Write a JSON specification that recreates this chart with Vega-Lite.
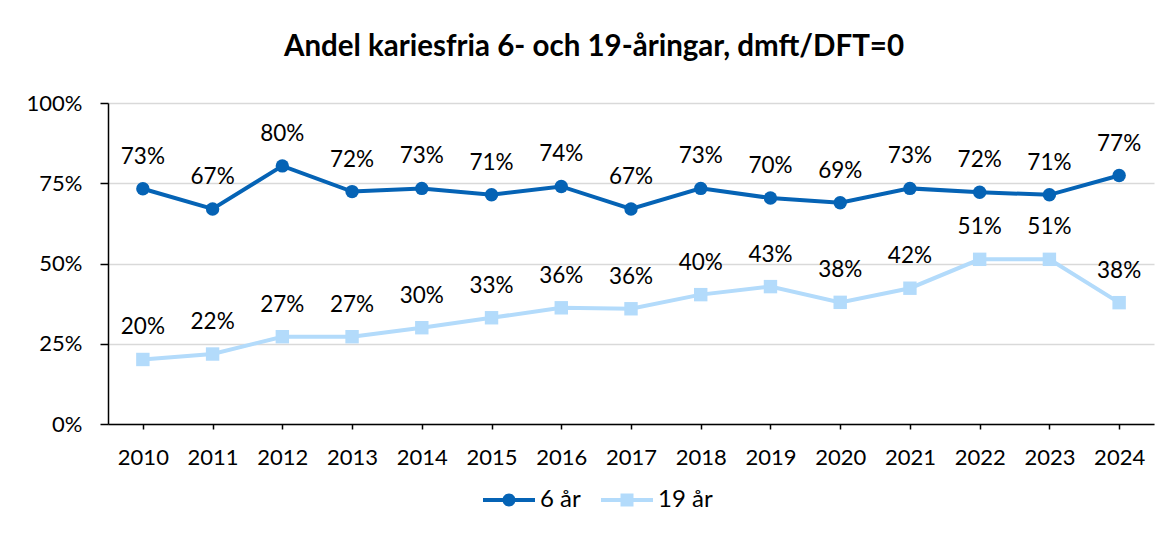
{
  "$schema": "https://vega.github.io/schema/vega-lite/v6.json",
  "width": 1046,
  "height": 321,
  "autosize": {"type": "none"},
  "padding": {"left": 108, "top": 103, "right": 18, "bottom": 109},
  "background": "white",
  "title": {
    "text": "Andel kariesfria 6- och 19-åringar, dmft/DFT=0",
    "font": "Lato",
    "fontSize": 29.5,
    "fontWeight": "bold",
    "color": "black",
    "anchor": "middle",
    "baseline": "alphabetic",
    "offset": 7,
    "dx": -37
  },
  "config": {
    "view": {"stroke": null},
    "font": "Lato",
    "axis": {"labelFont": "Lato", "labelFontSize": 22, "labelColor": "black", "title": null}
  },
  "data": {
    "values": [
      {"year": "2010", "series": "6 år", "value": 0.733},
      {"year": "2011", "series": "6 år", "value": 0.670},
      {"year": "2012", "series": "6 år", "value": 0.804},
      {"year": "2013", "series": "6 år", "value": 0.724},
      {"year": "2014", "series": "6 år", "value": 0.734},
      {"year": "2015", "series": "6 år", "value": 0.714},
      {"year": "2016", "series": "6 år", "value": 0.740},
      {"year": "2017", "series": "6 år", "value": 0.670},
      {"year": "2018", "series": "6 år", "value": 0.734},
      {"year": "2019", "series": "6 år", "value": 0.704},
      {"year": "2020", "series": "6 år", "value": 0.689},
      {"year": "2021", "series": "6 år", "value": 0.734},
      {"year": "2022", "series": "6 år", "value": 0.722},
      {"year": "2023", "series": "6 år", "value": 0.714},
      {"year": "2024", "series": "6 år", "value": 0.774},
      {"year": "2010", "series": "19 år", "value": 0.201},
      {"year": "2011", "series": "19 år", "value": 0.218},
      {"year": "2012", "series": "19 år", "value": 0.272},
      {"year": "2013", "series": "19 år", "value": 0.272},
      {"year": "2014", "series": "19 år", "value": 0.300},
      {"year": "2015", "series": "19 år", "value": 0.331},
      {"year": "2016", "series": "19 år", "value": 0.362},
      {"year": "2017", "series": "19 år", "value": 0.359},
      {"year": "2018", "series": "19 år", "value": 0.403},
      {"year": "2019", "series": "19 år", "value": 0.428},
      {"year": "2020", "series": "19 år", "value": 0.379},
      {"year": "2021", "series": "19 år", "value": 0.423},
      {"year": "2022", "series": "19 år", "value": 0.513},
      {"year": "2023", "series": "19 år", "value": 0.513},
      {"year": "2024", "series": "19 år", "value": 0.378}
    ]
  },
  "encoding": {
    "x": {
      "field": "year",
      "type": "ordinal",
      "scale": {"type": "point", "padding": 0.5},
      "axis": {
        "labelAngle": 0,
        "domainColor": "black",
        "domainWidth": 1.5,
        "tickColor": "black",
        "tickWidth": 1.5,
        "tickSize": 5,
        "labelPadding": 18,
        "grid": false
      }
    },
    "y": {
      "field": "value",
      "type": "quantitative",
      "scale": {"domain": [0, 1], "nice": false},
      "axis": {
        "values": [0, 0.25, 0.5, 0.75, 1],
        "format": ".0%",
        "domainColor": "black",
        "domainWidth": 1.5,
        "tickColor": "black",
        "tickWidth": 1.5,
        "tickSize": 8,
        "labelPadding": 18,
        "grid": true,
        "gridColor": "#D9D9D9",
        "gridWidth": 1.5
      }
    }
  },
  "layer": [
    {
      "mark": {"type": "line", "strokeWidth": 4},
      "encoding": {
        "color": {
          "field": "series",
          "type": "nominal",
          "sort": ["6 år", "19 år"],
          "scale": {"domain": ["6 år", "19 år"], "range": ["#0563B5", "#B3DBFB"]},
          "legend": {
            "title": null,
            "orient": "none",
            "direction": "horizontal",
            "legendX": 375,
            "legendY": 371,
            "symbolSize": 2704,
            "labelFont": "Lato",
            "labelFontSize": 24,
            "labelColor": "black",
            "labelOffset": 5,
            "columnPadding": 20,
            "encode": {
              "symbols": {
                "update": {
                  "shape": {"signal": "datum.value == '6 år' ? 'M-1,-0.077H1V0.077H-1Z M-0.25,0A0.25,0.25,0,1,1,0.25,0A0.25,0.25,0,1,1,-0.25,0Z' : 'M-1,-0.077H1V0.077H-1Z M-0.25,-0.25H0.25V0.25H-0.25Z'"},
                  "fill": {"signal": "datum.value == '6 år' ? '#0563B5' : '#B3DBFB'"},
                  "fillOpacity": {"value": 1},
                  "stroke": {"value": "transparent"},
                  "strokeWidth": {"value": 0},
                  "size": {"value": 2704}
                }
              }
            }
          }
        }
      }
    },
    {
      "mark": {"type": "point", "filled": true, "opacity": 1, "size": 180},
      "encoding": {
        "color": {
          "field": "series",
          "type": "nominal",
          "sort": ["6 år", "19 år"],
          "scale": {"domain": ["6 år", "19 år"], "range": ["#0563B5", "#B3DBFB"]}
        },
        "shape": {
          "condition": {"test": "datum.series == '6 år'", "value": "circle"},
          "value": "square"
        }
      }
    },
    {
      "mark": {"type": "text", "font": "Lato", "fontSize": 22.5, "color": "black", "dy": -32, "baseline": "middle"},
      "encoding": {
        "text": {"field": "value", "type": "quantitative", "format": ".0%"}
      }
    }
  ]
}
